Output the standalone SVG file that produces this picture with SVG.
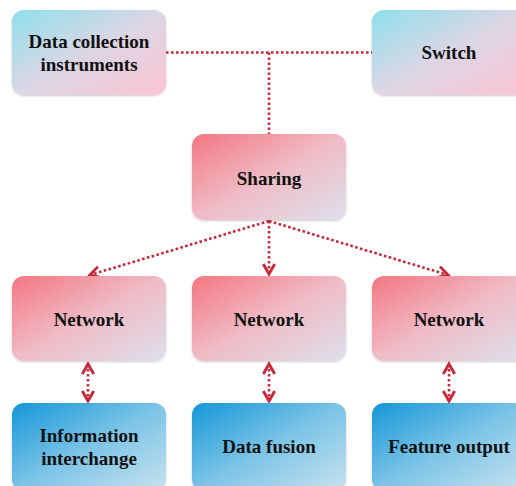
<svg xmlns="http://www.w3.org/2000/svg" width="516" height="486" viewBox="0 0 516 486">
<defs>
<linearGradient id="gTop" x1="0" y1="0" x2="1" y2="1"><stop offset="0" stop-color="#8ee0ec"/><stop offset="0.5" stop-color="#dcd6e4"/><stop offset="1" stop-color="#fcc4d2"/></linearGradient>
<linearGradient id="gRed" x1="0" y1="0" x2="1" y2="1"><stop offset="0" stop-color="#f47682"/><stop offset="0.5" stop-color="#efbcc6"/><stop offset="1" stop-color="#dde0ea"/></linearGradient>
<linearGradient id="gBlue" x1="0" y1="0" x2="1" y2="1"><stop offset="0" stop-color="#1497d8"/><stop offset="0.5" stop-color="#7cc4e6"/><stop offset="1" stop-color="#c8e2ee"/></linearGradient>
<marker id="ah" viewBox="0 0 10 10" refX="8" refY="5" markerWidth="5.5" markerHeight="5.5" orient="auto-start-reverse" markerUnits="strokeWidth"><path d="M1,1 L8,5 L1,9" fill="none" stroke="#c8283a" stroke-width="2"/></marker>
<filter id="sh" x="-10%" y="-10%" width="120%" height="130%"><feDropShadow dx="0" dy="1" stdDeviation="1" flood-color="#000" flood-opacity="0.2"/></filter>
</defs>
<style>
.box{filter:url(#sh)}
.t{font-family:"Liberation Serif",serif;font-weight:bold;font-size:19px;fill:#111;text-anchor:middle}
.c{fill:none;stroke:#c8283a;stroke-width:2.6;stroke-dasharray:2.6 2.4}
</style>
<g id="connectors">
<path class="c" d="M166,52.5 H372"/>
<path class="c" d="M269,52.5 V134"/>
<path class="c" d="M269,221 L90,275" marker-end="url(#ah)"/>
<path class="c" d="M269,221 V274" marker-end="url(#ah)"/>
<path class="c" d="M269,221 L448,275" marker-end="url(#ah)"/>
<path class="c" d="M88,364 V401" marker-start="url(#ah)" marker-end="url(#ah)"/>
<path class="c" d="M269,364 V401" marker-start="url(#ah)" marker-end="url(#ah)"/>
<path class="c" d="M449,364 V401" marker-start="url(#ah)" marker-end="url(#ah)"/>
</g>
<g id="n-data-collection"><rect class="box" x="12" y="10" width="154" height="85" rx="12" fill="url(#gTop)"/><text class="t" x="89" y="48">Data collection</text><text class="t" x="89" y="71">instruments</text></g>
<g id="n-switch"><rect class="box" x="372" y="10" width="154" height="85" rx="12" fill="url(#gTop)"/><text class="t" x="449" y="59">Switch</text></g>
<g id="n-sharing"><rect class="box" x="192" y="134" width="154" height="86" rx="12" fill="url(#gRed)"/><text class="t" x="269" y="185">Sharing</text></g>
<g id="n-network-1"><rect class="box" x="12" y="276" width="154" height="85" rx="12" fill="url(#gRed)"/><text class="t" x="89" y="326">Network</text></g>
<g id="n-network-2"><rect class="box" x="192" y="276" width="154" height="85" rx="12" fill="url(#gRed)"/><text class="t" x="269" y="326">Network</text></g>
<g id="n-network-3"><rect class="box" x="372" y="276" width="154" height="85" rx="12" fill="url(#gRed)"/><text class="t" x="449" y="326">Network</text></g>
<g id="n-info"><rect class="box" x="12" y="403" width="154" height="88" rx="12" fill="url(#gBlue)"/><text class="t" x="89" y="442">Information</text><text class="t" x="89" y="465">interchange</text></g>
<g id="n-fusion"><rect class="box" x="192" y="403" width="154" height="88" rx="12" fill="url(#gBlue)"/><text class="t" x="269" y="453">Data fusion</text></g>
<g id="n-feature"><rect class="box" x="372" y="403" width="154" height="88" rx="12" fill="url(#gBlue)"/><text class="t" x="449" y="453">Feature output</text></g>
</svg>
